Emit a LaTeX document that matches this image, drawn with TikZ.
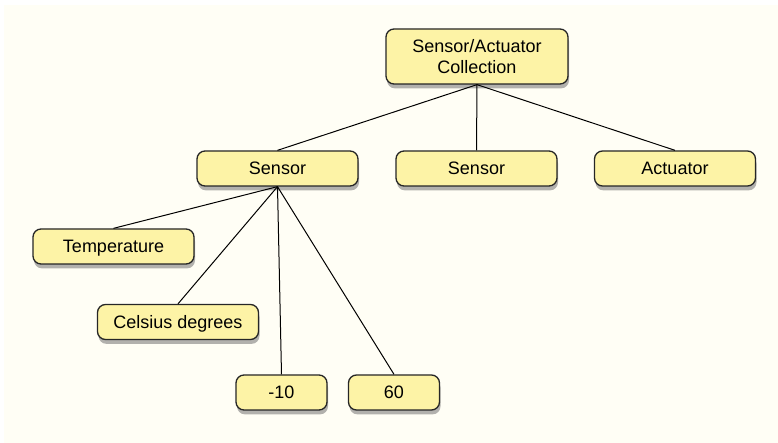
\documentclass[tikz,border=0pt]{standalone}
\usepackage{fontspec}
\setmainfont{Liberation Sans}
\usepackage{tikz}
\usetikzlibrary{shadows}

\definecolor{boxfill}{RGB}{253,243,166}
\definecolor{paper}{RGB}{255,254,245}

\tikzset{
	item/.style={draw=black!85, line width=0.65pt, fill=boxfill, rounded corners=4pt,
		minimum width=80.5pt, minimum height=17.5pt, inner sep=0pt,
		text height=6.5pt, text depth=0pt,
		font=\fontsize{9}{10.5}\selectfont,
		drop shadow={shadow xshift=0.5pt, shadow yshift=-2.2pt, opacity=0.5, fill=black!60}},
	link/.style={draw=black, line width=0.5pt}
}

\begin{document}
\begin{tikzpicture}[x=0.5pt,y=-0.5pt]
			\useasboundingbox (0,0) rectangle (778,443);
			\fill[paper] (4,5) rectangle (778,443);

			\node[item, minimum width=91pt, minimum height=27.5pt, align=center, text height=, text depth=] (coll) at (477,56.5) {Sensor/Actuator\\Collection};
			\node[item] (sensorA) at (277.5,168.5) {Sensor};
			\node[item] (sensorB) at (476.5,168.5) {Sensor};
			\node[item] (actuator) at (675,168.5) {Actuator};
			\node[item] (temp) at (113.5,246.5) {Temperature};
			\node[item] (unit) at (178,322) {Celsius degrees};
			\node[item, minimum width=45.5pt] (low) at (281.5,392.5) {-10};
			\node[item, minimum width=45.5pt] (high) at (394,392.5) {60};

			\draw[link] (coll.south) -- (sensorA.north);
			\draw[link] (coll.south) -- (sensorB.north);
			\draw[link] (coll.south) -- (actuator.north);
			\draw[link] (sensorA.south) -- (temp.north);
			\draw[link] (sensorA.south) -- (unit.north);
			\draw[link] (sensorA.south) -- (low.north);
			\draw[link] (sensorA.south) -- (high.north);
		\end{tikzpicture}
\end{document}
